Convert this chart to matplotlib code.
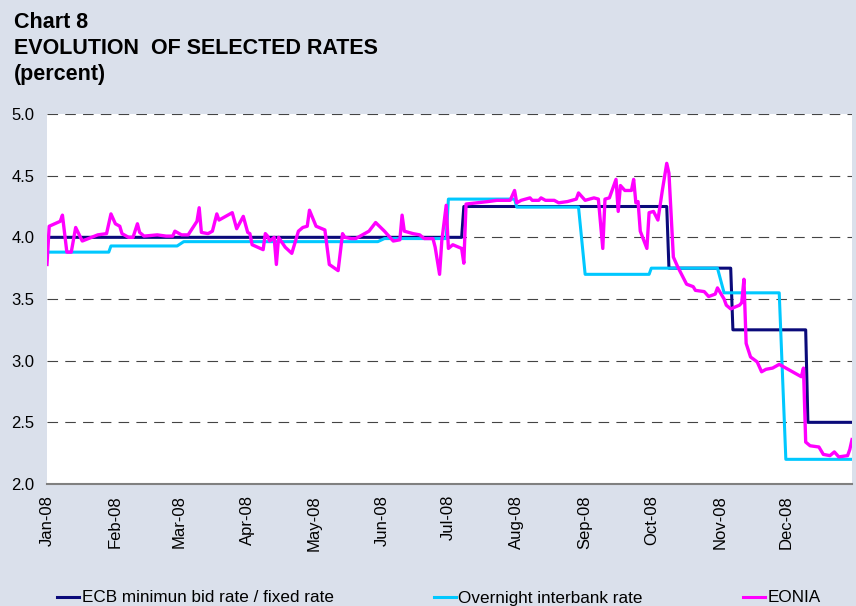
import pandas as pd
import matplotlib
matplotlib.use("Agg")
import matplotlib.pyplot as plt
import matplotlib.dates as mdates
from matplotlib.lines import Line2D

# ECB minimum bid / fixed rate: date from which each level applies
ecb_dates = ["2008-01-01", "2008-07-08", "2008-10-09", "2008-11-07", "2008-12-11"]
ecb_rates = [4.00, 4.25, 3.75, 3.25, 2.50]

# Overnight interbank rate: date from which each level applies
overnight_dates = ["2008-01-01", "2008-01-30", "2008-03-03", "2008-06-02", "2008-07-01",
                   "2008-08-01", "2008-09-01", "2008-10-01", "2008-11-03", "2008-12-01"]
overnight_rates = [3.88, 3.93, 3.965, 3.99, 4.31, 4.245, 3.70, 3.75, 3.55, 2.20]

# EONIA
eonia_dates = [
    "2008-01-01", "2008-01-02", "2008-01-07", "2008-01-08", "2008-01-10", "2008-01-12",
    "2008-01-14", "2008-01-17", "2008-01-24", "2008-01-28", "2008-01-30", "2008-02-01",
    "2008-02-03", "2008-02-04", "2008-02-07", "2008-02-09", "2008-02-11", "2008-02-12",
    "2008-02-14", "2008-02-20", "2008-02-24", "2008-02-27", "2008-02-28", "2008-03-02",
    "2008-03-05", "2008-03-09", "2008-03-10", "2008-03-11", "2008-03-14", "2008-03-16",
    "2008-03-18", "2008-03-19", "2008-03-25", "2008-03-27", "2008-03-30", "2008-04-01",
    "2008-04-02", "2008-04-03", "2008-04-08", "2008-04-09", "2008-04-10", "2008-04-11",
    "2008-04-13", "2008-04-14", "2008-04-15", "2008-04-18", "2008-04-21", "2008-04-24",
    "2008-04-26", "2008-04-28", "2008-04-29", "2008-05-02", "2008-05-06", "2008-05-08",
    "2008-05-12", "2008-05-14", "2008-05-15", "2008-05-18", "2008-05-20", "2008-05-23",
    "2008-05-26", "2008-05-29", "2008-06-02", "2008-06-06", "2008-06-09", "2008-06-10",
    "2008-06-11", "2008-06-15", "2008-06-18", "2008-06-20", "2008-06-24", "2008-06-25",
    "2008-06-27", "2008-06-28", "2008-06-30", "2008-07-01", "2008-07-03", "2008-07-07",
    "2008-07-08", "2008-07-09", "2008-07-14", "2008-07-19", "2008-07-23", "2008-07-29",
    "2008-07-31", "2008-08-01", "2008-08-03", "2008-08-07", "2008-08-08", "2008-08-11",
    "2008-08-12", "2008-08-14", "2008-08-18", "2008-08-20", "2008-08-24", "2008-08-28",
    "2008-08-29", "2008-09-01", "2008-09-05", "2008-09-07", "2008-09-09", "2008-09-10",
    "2008-09-12", "2008-09-15", "2008-09-16", "2008-09-17", "2008-09-19", "2008-09-22",
    "2008-09-23", "2008-09-24", "2008-09-25", "2008-09-26", "2008-09-29", "2008-09-30",
    "2008-10-02", "2008-10-04", "2008-10-06", "2008-10-08", "2008-10-09", "2008-10-11",
    "2008-10-13", "2008-10-15", "2008-10-17", "2008-10-20", "2008-10-21", "2008-10-25",
    "2008-10-27", "2008-10-30", "2008-10-31", "2008-11-03", "2008-11-04", "2008-11-06",
    "2008-11-10", "2008-11-11", "2008-11-12", "2008-11-13", "2008-11-15", "2008-11-18",
    "2008-11-20", "2008-11-22", "2008-11-25", "2008-11-28", "2008-12-02", "2008-12-04",
    "2008-12-08", "2008-12-09", "2008-12-10", "2008-12-12", "2008-12-16", "2008-12-18",
    "2008-12-21", "2008-12-23", "2008-12-25", "2008-12-29", "2008-12-30", "2008-12-31",
]
eonia_values = [
    3.78, 4.09, 4.13, 4.18, 3.88, 3.88,
    4.08, 3.97, 4.02, 4.03, 4.19, 4.11,
    4.09, 4.03, 4.00, 4.00, 4.11, 4.04,
    4.01, 4.02, 4.01, 4.01, 4.05, 4.02,
    4.02, 4.13, 4.24, 4.04, 4.03, 4.05,
    4.19, 4.14, 4.20, 4.07, 4.17, 4.04,
    4.03, 3.94, 3.90, 4.03, 4.01, 3.97,
    4.00, 3.78, 4.00, 3.92, 3.87, 4.05,
    4.08, 4.09, 4.22, 4.09, 4.06, 3.78,
    3.73, 4.03, 4.00, 3.99, 3.99, 4.02,
    4.05, 4.12, 4.05, 3.97, 3.98, 4.18,
    4.05, 4.03, 4.02, 3.99, 3.99, 3.92,
    3.70, 3.97, 4.26, 3.91, 3.94, 3.91,
    3.79, 4.27, 4.28, 4.29, 4.30, 4.30,
    4.38, 4.28, 4.30, 4.32, 4.30, 4.30,
    4.32, 4.30, 4.30, 4.28, 4.29, 4.31,
    4.36, 4.30, 4.32, 4.31, 3.91, 4.31,
    4.32, 4.47, 4.21, 4.42, 4.38, 4.38,
    4.47, 4.28, 4.29, 4.05, 3.91, 4.20,
    4.21, 4.14, 4.38, 4.60, 4.52, 3.84,
    3.76, 3.69, 3.62, 3.60, 3.57, 3.56,
    3.52, 3.54, 3.59, 3.50, 3.45, 3.42,
    3.45, 3.47, 3.66, 3.14, 3.03, 2.99,
    2.91, 2.93, 2.94, 2.97, 2.93, 2.91,
    2.87, 2.94, 2.34, 2.31, 2.30, 2.24,
    2.23, 2.26, 2.22, 2.23, 2.28, 2.36,
]

legend_labels = ["ECB minimun bid rate / fixed rate", "Overnight interbank rate", "EONIA"]
title_text = "Chart 8\nEVOLUTION  OF SELECTED RATES\n(percent)"

BG = "#dae0eb"
NAVY = "#0a0a7a"
CYAN = "#00c8ff"
MAGENTA = "#ff00ff"

plt.rcParams["font.family"] = ["Liberation Sans", "DejaVu Sans"]

# business days of the year, policy rates held until the next change
days = pd.bdate_range("2008-01-01", "2008-12-31")


def step_series(dates, rates):
    s = pd.Series(rates, index=pd.to_datetime(dates))
    return s.reindex(days, method="ffill")


ecb = step_series(ecb_dates, ecb_rates)
overnight = step_series(overnight_dates, overnight_rates)
eonia = pd.Series(eonia_values, index=pd.to_datetime(eonia_dates))

fig = plt.figure(figsize=(8.56, 6.06), dpi=100, facecolor=BG)
ax = fig.add_axes([47 / 856, 1 - 484 / 606, 805 / 856, 370 / 606])
ax.set_facecolor("white")

ax.plot(ecb.index, ecb.values, color=NAVY, lw=2.2, zorder=3)
ax.plot(overnight.index, overnight.values, color=CYAN, lw=2.2, zorder=4)
ax.plot(eonia.index, eonia.values, color=MAGENTA, lw=2.4, zorder=5)

ax.set_ylim(2.0, 5.0)
ax.set_yticks([2.0, 2.5, 3.0, 3.5, 4.0, 4.5, 5.0])
ax.yaxis.set_major_formatter(matplotlib.ticker.FormatStrFormatter("%.1f"))
ax.set_xlim(pd.Timestamp("2008-01-01"), pd.Timestamp("2008-12-31"))
ax.xaxis.set_major_locator(mdates.MonthLocator())
ax.xaxis.set_major_formatter(mdates.DateFormatter("%b-%y"))

for v in [2.5, 3.0, 3.5, 4.0, 4.5, 5.0]:
    ax.axhline(v, color="#444444", lw=0.8, linestyle=(0, (9.5, 6.5)), zorder=1)

for side in ["top", "right", "left"]:
    ax.spines[side].set_visible(False)
ax.spines["bottom"].set_color("#808080")
ax.spines["bottom"].set_linewidth(1.5)

ax.tick_params(axis="both", length=0, labelsize=12, colors="black")
ax.tick_params(axis="y", pad=9)
ax.tick_params(axis="x", pad=8, labelrotation=90)

fig.text(14 / 856, 1 - 12 / 606, title_text, ha="left", va="top",
         fontsize=15.5, fontweight="bold", linespacing=1.3)

handles = [Line2D([0], [0], color=c, lw=2.2) for c in [NAVY, CYAN, MAGENTA]]
fig.legend(handles, legend_labels, loc="center left", ncol=3,
           bbox_to_anchor=(57 / 856, 1 - 598 / 606), frameon=False,
           fontsize=12.3, handlelength=1.3, handletextpad=0.15,
           columnspacing=5.85, borderpad=0, borderaxespad=0)

fig.savefig("out.png", dpi=100, facecolor=BG)
